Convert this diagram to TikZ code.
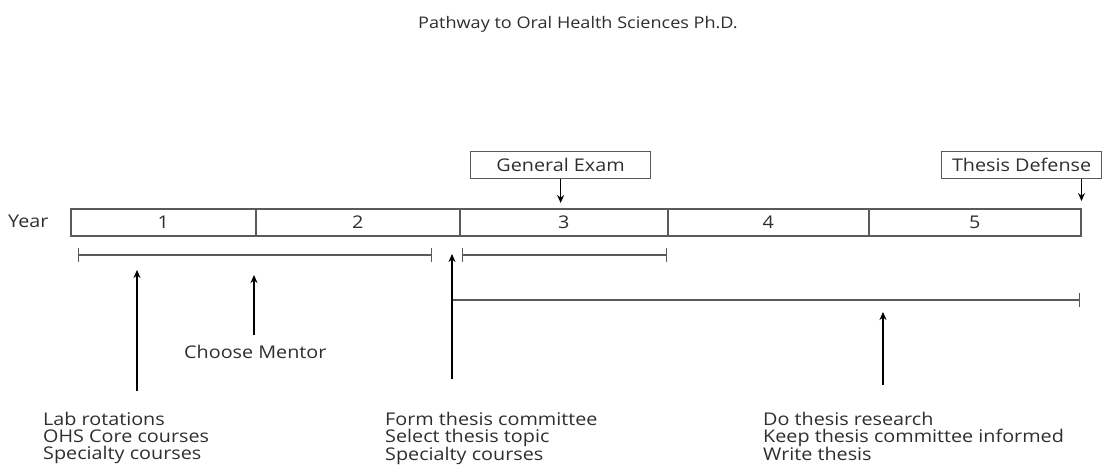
\documentclass[tikz,border=0pt]{standalone}
\usepackage{fontspec}
\setmainfont{Open Sans}[FakeStretch=1.13]
\usetikzlibrary{arrows.meta}
\definecolor{txtc}{HTML}{2e2e2e}
\definecolor{linec}{HTML}{5a5a5a}
\begin{document}
\begin{tikzpicture}[x=1pt,y=-1pt,
  txt/.style={font=\fontsize{17.5}{17}\selectfont, text=txtc, inner sep=0pt},
  cell/.style={txt, draw=linec, line width=1.5pt, minimum height=27pt, anchor=north west},
  lbox/.style={txt, draw=linec, line width=1.2pt, minimum height=27pt, anchor=north west},
  arr/.style={-{Stealth[length=8pt,width=7pt]}, line width=1.6pt, draw=black},
  span/.style={{Bar[width=14pt]}-{Bar[width=14pt]}, line width=1.4pt, draw=linec},
  rspan/.style={-{Bar[width=14pt]}, line width=1.4pt, draw=linec}]
\useasboundingbox (0,0) rectangle (1106,468);
\node[txt, font=\fontsize{16}{17}\selectfont] (title) at (578,24) {Pathway to Oral Health Sciences Ph.D.};
\node[txt, anchor=west] (year) at (8,221) {Year};
\node[cell, minimum width=185pt] (c1) at (70,208) {1};
\node[cell, minimum width=204pt] (c2) at (255,208) {2};
\node[cell, minimum width=208pt] (c3) at (459,208) {3};
\node[cell, minimum width=201pt] (c4) at (667,208) {4};
\node[cell, minimum width=212pt] (c5) at (868,208) {5};
\node[lbox, minimum width=180pt] (ge) at (470,151) {General Exam};
\node[lbox, minimum width=160pt] (td) at (941,151) {Thesis Defense};
\draw[arr, shorten >=5pt] (ge.south) -- (ge.south |- c3.north);
\draw[arr, shorten >=7pt] (td.south -| c5.north east) -- (c5.north east);
% spans
\coordinate (s1a) at (78,255);
\coordinate (s1b) at (432,255);
\coordinate (s2a) at (462,255);
\coordinate (s2b) at (667,255);
\coordinate (s3a) at (452,300);
\coordinate (s3b) at (1080,300);
\draw[span] (s1a) -- (s1b);
\draw[span] (s2a) -- (s2b);
\draw[rspan] (s3a) -- (s3b);
% texts
\node[txt, anchor=west] (mentor) at (184,352) {Choose Mentor};
\node[txt, anchor=north west, align=left] (l1) at (43,412) {Lab rotations\\OHS Core courses\\Specialty courses};
\node[txt, anchor=north west, align=left] (l2) at (385,412) {Form thesis committee\\Select thesis topic\\Specialty courses};
\node[txt, anchor=north west, align=left] (l3) at (763,412) {Do thesis research\\Keep thesis committee informed\\Write thesis};
% up arrows
\coordinate (a1t) at (137,270);
\coordinate (a2t) at (254,275);
\coordinate (a3t) at (452,254);
\coordinate (a4t) at (883,312);
\draw[arr] (137,391) -- (a1t);
\draw[arr] (mentor.north west -| a2t) ++(0,-10) -- (a2t);
\draw[arr] (452,379) -- (a3t);
\draw[arr] (883,385) -- (a4t);
\end{tikzpicture}
\end{document}
